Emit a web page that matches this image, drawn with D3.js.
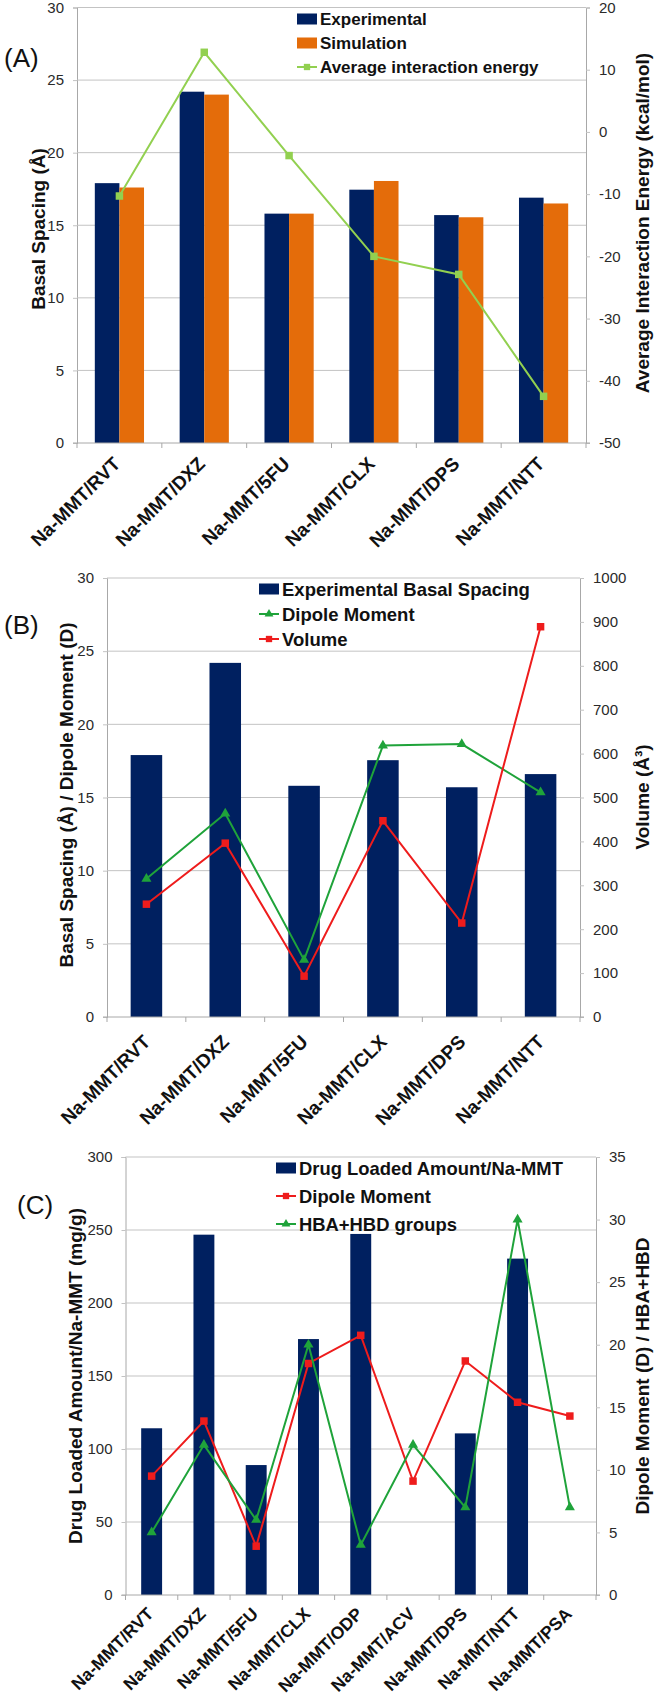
<!DOCTYPE html>
<html>
<head>
<meta charset="utf-8">
<script src="https://cdn.jsdelivr.net/npm/d3@7"></script>
<style>
  html, body { margin: 0; padding: 0; background: #ffffff; overflow: hidden; }
  svg { display: block; }
  text { font-family: "Liberation Sans", Arial, Helvetica, sans-serif; }
</style>
</head>
<body>
<script>
// ---------------- DATA ----------------
const categoriesAB = ["Na-MMT/RVT", "Na-MMT/DXZ", "Na-MMT/5FU", "Na-MMT/CLX", "Na-MMT/DPS", "Na-MMT/NTT"];
// Panel A
const aExperimental = [17.9, 24.2, 15.8, 17.45, 15.7, 16.9];
const aSimulation   = [17.6, 24.0, 15.8, 18.05, 15.55, 16.5];
const aEnergy       = [-10.3, 12.8, -3.8, -20.0, -22.9, -42.5];
const aLeftTicks  = [0, 5, 10, 15, 20, 25, 30];
const aRightTicks = [-50, -40, -30, -20, -10, 0, 10, 20];
// Panel B
const bExperimental = [17.9, 24.2, 15.8, 17.55, 15.7, 16.6];
const bDipole       = [9.45, 13.9, 3.9, 18.55, 18.65, 15.35];
const bVolume       = [257, 396, 93, 447, 214, 889];
const bLeftTicks  = [0, 5, 10, 15, 20, 25, 30];
const bRightTicks = [0, 100, 200, 300, 400, 500, 600, 700, 800, 900, 1000];
// Panel C
const categoriesC = ["Na-MMT/RVT", "Na-MMT/DXZ", "Na-MMT/5FU", "Na-MMT/CLX", "Na-MMT/ODP", "Na-MMT/ACV", "Na-MMT/DPS", "Na-MMT/NTT", "Na-MMT/PSA"];
const cLoaded = [114.2, 246.8, 89, 175.3, 247.3, null, 110.7, 230.4, null];
const cDipole = [9.5, 13.9, 3.9, 18.5, 20.75, 9.1, 18.7, 15.4, 14.3];
const cHBAHBD = [5, 12, 6, 20, 4, 12, 7, 30, 7];
const cLeftTicks  = [0, 50, 100, 150, 200, 250, 300];
const cRightTicks = [0, 5, 10, 15, 20, 25, 30, 35];

// ---------------- STYLE ----------------
const NAVY = "#002060", ORANGE = "#e46c0a", LGREEN = "#92d050", GREEN = "#1fa33a", RED = "#ee1c1c";
const GRID = "#c3c3c3", AXIS = "#a8a8a8", TICKTXT = "#2a2a2a";

const svg = d3.select("body").append("svg").attr("width", 655).attr("height", 1700);

function panel(cfg) {
  const g = svg.append("g");
  const x = d3.scaleBand().domain(cfg.cats).range([cfg.left, cfg.right]);
  const yL = d3.scaleLinear().domain(cfg.leftDomain).range([cfg.bottom, cfg.top]);
  const yR = d3.scaleLinear().domain(cfg.rightDomain).range([cfg.bottom, cfg.top]);

  // left axis
  const lAxis = d3.axisLeft(yL).tickValues(cfg.leftTicks).tickSize(4).tickPadding(9).tickFormat(d3.format("d"));
  const la = g.append("g").attr("transform", `translate(${cfg.left},0)`).call(lAxis);
  la.select(".domain").attr("stroke", AXIS);
  la.selectAll(".tick line").attr("stroke", GRID);
  la.selectAll(".tick text").attr("font-size", 15).attr("fill", TICKTXT).attr("font-family", '"Liberation Sans", Arial, sans-serif');
  // horizontal grid
  g.append("g").selectAll("line").data(cfg.leftTicks.filter(d => d !== cfg.leftDomain[0])).join("line")
    .attr("x1", cfg.left).attr("x2", cfg.right)
    .attr("y1", d => yL(d)).attr("y2", d => yL(d))
    .attr("stroke", GRID).attr("stroke-width", 1);

  // right axis
  const rAxis = d3.axisRight(yR).tickValues(cfg.rightTicks).tickSize(4).tickPadding(9).tickFormat(d3.format("d"));
  const ra = g.append("g").attr("transform", `translate(${cfg.right},0)`).call(rAxis);
  ra.select(".domain").attr("stroke", AXIS);
  ra.selectAll(".tick line").attr("stroke", GRID);
  ra.selectAll(".tick text").attr("font-size", 15).attr("fill", TICKTXT).attr("font-family", '"Liberation Sans", Arial, sans-serif')
    .text(d => d < 0 ? "-" + Math.abs(d) : d);

  // bars
  const bw = x.bandwidth();
  cfg.bars.forEach((s, si) => {
    const n = cfg.bars.length;
    const w = bw * cfg.barFrac;
    g.append("g").selectAll("rect").data(s.values.map((v, i) => ({v, c: cfg.cats[i]})).filter(d => d.v != null)).join("rect")
      .attr("x", d => x(d.c) + bw / 2 - (n * w) / 2 + si * w)
      .attr("width", w)
      .attr("y", d => yL(d.v))
      .attr("height", d => yL(0) - yL(d.v))
      .attr("fill", s.color);
  });

  // x axis (bottom)
  const xa = g.append("g").attr("transform", `translate(0,${cfg.bottom})`);
  xa.append("line").attr("x1", cfg.left - 4).attr("x2", cfg.right + 4).attr("y1", 0).attr("y2", 0).attr("stroke", AXIS);
  const bounds = cfg.cats.map(c => x(c)).concat([cfg.right]);
  xa.selectAll("line.t").data(bounds).join("line").attr("class", "t")
    .attr("x1", d => d).attr("x2", d => d).attr("y1", 0).attr("y2", 5).attr("stroke", AXIS);
  xa.selectAll("text").data(cfg.cats).join("text")
    .attr("transform", d => `translate(${x(d) + bw / 2 + cfg.lblDx},${cfg.lblDy}) rotate(-45)`)
    .attr("text-anchor", "end")
    .attr("font-size", cfg.lblSize).attr("font-weight", "bold").attr("fill", "#111")
    .text(d => d);

  // lines
  cfg.lines.forEach(s => {
    const sc = s.axis === "left" ? yL : yR;
    const pts = s.values.map((v, i) => ({v, c: cfg.cats[i]}));
    g.append("path").datum(pts)
      .attr("d", d3.line().x(d => x(d.c) + bw / 2).y(d => sc(d.v)))
      .attr("fill", "none").attr("stroke", s.color).attr("stroke-width", 2);
    const sym = d3.symbol().type(s.marker === "square" ? d3.symbolSquare : d3.symbolTriangle).size(s.marker === "square" ? 56 : 44);
    g.append("g").selectAll("path").data(pts).join("path")
      .attr("transform", d => `translate(${x(d.c) + bw / 2},${sc(d.v)})`)
      .attr("d", sym).attr("fill", s.color);
  });

  // legend
  cfg.legend.items.forEach((it, i) => {
    const ly = cfg.legend.y + i * cfg.legend.dy;
    const lx = cfg.legend.x;
    if (it.type === "bar") {
      g.append("rect").attr("x", lx).attr("y", ly - 5.5).attr("width", 20).attr("height", 11).attr("fill", it.color);
    } else {
      g.append("line").attr("x1", lx).attr("x2", lx + 20).attr("y1", ly).attr("y2", ly).attr("stroke", it.color).attr("stroke-width", 2);
      const sym = d3.symbol().type(it.marker === "square" ? d3.symbolSquare : d3.symbolTriangle).size(it.marker === "square" ? 40 : 34);
      g.append("path").attr("transform", `translate(${lx + 10},${ly})`).attr("d", sym).attr("fill", it.color);
    }
    g.append("text").attr("x", lx + 23).attr("y", ly).attr("dy", "0.36em")
      .attr("font-size", cfg.legend.size).attr("font-weight", "bold").attr("fill", "#111").text(it.label);
  });

  // panel tag
  g.append("text").attr("x", cfg.tag.x).attr("y", cfg.tag.y).attr("dy", "0.36em")
    .attr("font-size", 26).attr("fill", "#111").text(cfg.tag.text);

  // axis titles
  g.append("text").attr("transform", `translate(${cfg.leftTitle.x},${cfg.leftTitle.y}) rotate(-90)`)
    .attr("text-anchor", "middle").attr("dy", "0.36em").attr("font-size", 19).attr("font-weight", "bold").attr("fill", "#111")
    .text(cfg.leftTitle.text);
  g.append("text").attr("transform", `translate(${cfg.rightTitle.x},${cfg.rightTitle.y}) rotate(-90)`)
    .attr("text-anchor", "middle").attr("dy", "0.36em").attr("font-size", 19).attr("font-weight", "bold").attr("fill", "#111")
    .text(cfg.rightTitle.text);
}

panel({
  cats: categoriesAB, left: 77, right: 586, top: 7.5, bottom: 443,
  leftDomain: [0, 30], rightDomain: [-50, 20], leftTicks: aLeftTicks, rightTicks: aRightTicks,
  barFrac: 0.29,
  bars: [{values: aExperimental, color: NAVY}, {values: aSimulation, color: ORANGE}],
  lines: [{values: aEnergy, axis: "right", color: LGREEN, marker: "square"}],
  lblDx: 2, lblDy: 22, lblSize: 19,
  legend: {x: 297, y: 19, dy: 24, size: 17, items: [
    {type: "bar", color: NAVY, label: "Experimental"},
    {type: "bar", color: ORANGE, label: "Simulation"},
    {type: "line", color: LGREEN, marker: "square", label: "Average interaction energy"}]},
  tag: {x: 4, y: 58, text: "(A)"},
  leftTitle: {x: 38, y: 229, text: "Basal Spacing (Å)"},
  rightTitle: {x: 642, y: 223, text: "Average Interaction Energy (kcal/mol)"}
});

panel({
  cats: categoriesAB, left: 107, right: 580, top: 578, bottom: 1017,
  leftDomain: [0, 30], rightDomain: [0, 1000], leftTicks: bLeftTicks, rightTicks: bRightTicks,
  barFrac: 0.40,
  bars: [{values: bExperimental, color: NAVY}],
  lines: [{values: bDipole, axis: "left", color: GREEN, marker: "triangle"},
          {values: bVolume, axis: "right", color: RED, marker: "square"}],
  lblDx: 5, lblDy: 26, lblSize: 19,
  legend: {x: 259, y: 589, dy: 25, size: 18.5, items: [
    {type: "bar", color: NAVY, label: "Experimental Basal Spacing"},
    {type: "line", color: GREEN, marker: "triangle", label: "Dipole Moment"},
    {type: "line", color: RED, marker: "square", label: "Volume"}]},
  tag: {x: 4, y: 625, text: "(B)"},
  leftTitle: {x: 66, y: 795, text: "Basal Spacing (Å) / Dipole Moment (D)"},
  rightTitle: {x: 642, y: 797, text: "Volume (Å³)"}
});

panel({
  cats: categoriesC, left: 125.5, right: 596, top: 1157, bottom: 1595,
  leftDomain: [0, 300], rightDomain: [0, 35], leftTicks: cLeftTicks, rightTicks: cRightTicks,
  barFrac: 0.40,
  bars: [{values: cLoaded, color: NAVY}],
  lines: [{values: cDipole, axis: "right", color: RED, marker: "square"},
          {values: cHBAHBD, axis: "right", color: GREEN, marker: "triangle"}],
  lblDx: 3, lblDy: 20, lblSize: 17.5,
  legend: {x: 276, y: 1168, dy: 28, size: 18.4, items: [
    {type: "bar", color: NAVY, label: "Drug Loaded Amount/Na-MMT"},
    {type: "line", color: RED, marker: "square", label: "Dipole Moment"},
    {type: "line", color: GREEN, marker: "triangle", label: "HBA+HBD groups"}]},
  tag: {x: 17, y: 1205, text: "(C)"},
  leftTitle: {x: 75, y: 1376, text: "Drug Loaded Amount/Na-MMT (mg/g)"},
  rightTitle: {x: 642, y: 1376, text: "Dipole Moment (D) / HBA+HBD"}
});
</script>
</body>
</html>
